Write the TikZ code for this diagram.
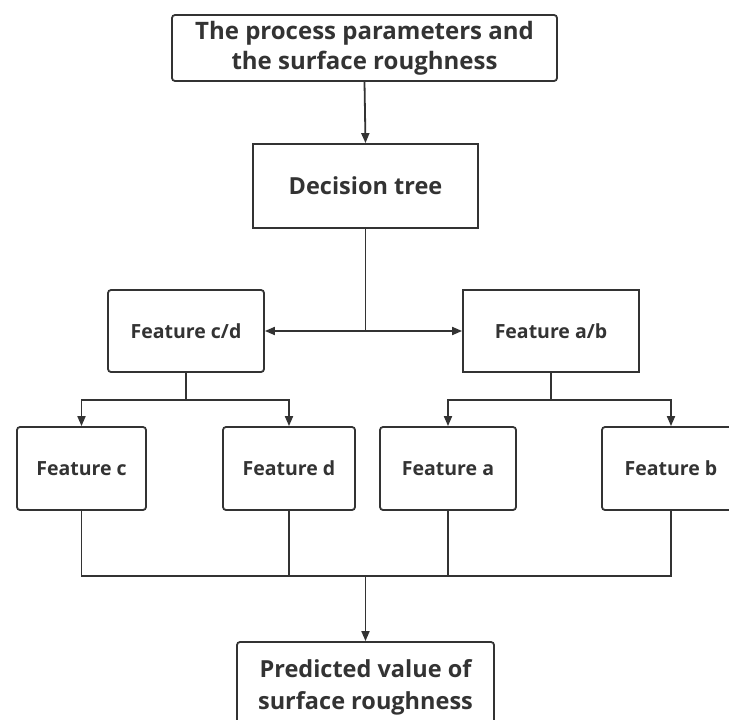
\documentclass[tikz,border=0pt]{standalone}
\usepackage{fontspec}
\setmainfont{Open Sans}
\usetikzlibrary{arrows.meta}
\definecolor{ink}{HTML}{333333}
\tikzset{
  box/.style={draw=ink, line width=1.8pt, text=ink, align=center, inner sep=0pt, font=\bfseries},
  rbox/.style={box, rounded corners=3pt},
  conn/.style={draw=ink, line width=1.8pt},
  arr/.style={conn, -{Triangle[length=10pt,width=8pt]}},
  darr/.style={conn, {Triangle[length=10pt,width=8pt]}-{Triangle[length=10pt,width=8pt]}},
  ftxt/.style={font=\bfseries\fontsize{19.5}{22}\selectfont}
}
\begin{document}
\begin{tikzpicture}[x=1pt,y=-1pt]
\useasboundingbox (0,0) rectangle (729,720);
\clip (0,0) rectangle (729,720);
\fill[white] (0,0) rectangle (729,720);
\node[rbox, minimum width=385pt, minimum height=66pt, font=\bfseries\fontsize{24}{30}\selectfont] (top) at (364.5,48) {The process parameters and\\the surface roughness};
\node[box, minimum width=225pt, minimum height=84pt, font=\bfseries\fontsize{23.5}{26}\selectfont] (dt) at (365.5,186) {Decision tree};
\node[rbox, minimum width=156pt, minimum height=82pt, ftxt] (fcd) at (186,331) {Feature c/d};
\node[box, minimum width=176pt, minimum height=82pt, ftxt] (fab) at (551,331) {Feature a/b};
\node[rbox, minimum width=129pt, minimum height=83pt, ftxt] (fc) at (81.5,468.5) {Feature c};
\node[rbox, minimum width=132pt, minimum height=83pt, ftxt] (fd) at (289,468.5) {Feature d};
\node[rbox, minimum width=136pt, minimum height=83pt, ftxt] (fa) at (448,468.5) {Feature a};
\node[rbox, minimum width=138pt, minimum height=83pt, ftxt] (fb) at (671,468.5) {Feature b};
\node[rbox, minimum width=257pt, minimum height=90pt, font=\bfseries\fontsize{23.5}{32}\selectfont] (pred) at (365.5,687) {Predicted value of\\surface roughness};
\draw[arr] (top.south) -- (dt.north);
\draw[conn] (dt.south) -- (dt.south |- fcd.east);
\draw[darr] (fcd.east) -- (fab.west);
\draw[arr] (fcd.south) -- ++(0,27) -| (fc.north);
\draw[arr] (fcd.south) ++(0,27) -| (fd.north);
\draw[arr] (fab.south) -- ++(0,27) -| (fa.north);
\draw[arr] (fab.south) ++(0,27) -| (fb.north);
\coordinate (bus) at (365.5,576);
\draw[conn] (fc.south) -- (fc.south |- bus) -- (fb.south |- bus) -- (fb.south);
\draw[conn] (fd.south) -- (fd.south |- bus);
\draw[conn] (fa.south) -- (fa.south |- bus);
\draw[arr] (bus) -- (pred.north);
\end{tikzpicture}
\end{document}
